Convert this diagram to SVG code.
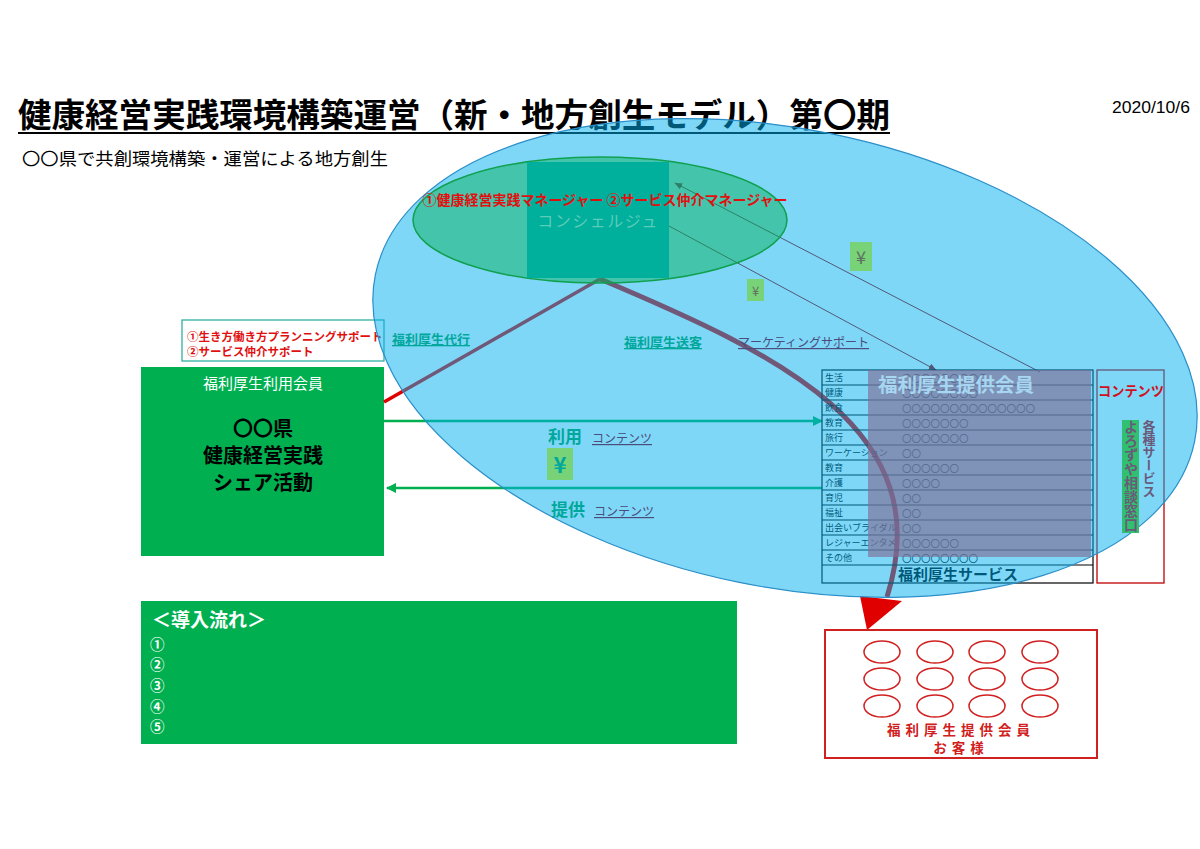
<svg xmlns="http://www.w3.org/2000/svg" width="1200" height="849" viewBox="0 0 1200 849">
<defs>
<style>
.jp{font-family:"Noto Sans CJK JP","Noto Sans CJK SC",sans-serif}
.b{font-weight:bold}
.row{fill:none;stroke:#000;stroke-width:1.2}
.lbl{font-size:9px;fill:#000}
.cir{font-size:9.5px;fill:#000}
.oval{fill:none;stroke:#d02020;stroke-width:1.5}
.teal{fill:#00a89c;font-size:13px;font-weight:bold;text-decoration:underline}
.pg{fill:#4a4c7c;font-size:12px;text-decoration:underline}
.yen{fill:#78d278}
</style>
<marker id="ag" viewBox="0 0 10 10" refX="9" refY="5" markerWidth="4" markerHeight="4" orient="auto" markerUnits="strokeWidth"><path d="M0,0 L10,5 L0,10 z" fill="#00b050"/></marker>
<marker id="ar" viewBox="0 0 10 10" refX="9" refY="5" markerWidth="8" markerHeight="8" orient="auto" markerUnits="strokeWidth"><path d="M0,1 L10,5 L0,9 z" fill="#a00000"/></marker>
</defs>
<rect width="1200" height="849" fill="#fff"/>

<g id="title">
<text x="18" y="127" class="jp b" font-size="33" textLength="872" lengthAdjust="spacingAndGlyphs" fill="#000">健康経営実践環境構築運営（新・地方創生モデル）第〇期</text>
<line x1="18" y1="133" x2="890" y2="133" stroke="#000" stroke-width="2"/>
<text x="22" y="165" class="jp" font-size="17.5" textLength="366" lengthAdjust="spacingAndGlyphs" fill="#000">〇〇県で共創環境構築・運営による地方創生</text>
<text x="1190" y="113" font-family="Liberation Sans, Arial, sans-serif" font-size="16" text-anchor="end" textLength="78" lengthAdjust="spacingAndGlyphs" fill="#000">2020/10/6</text>
</g>

<g id="support-box">
<rect x="182" y="320" width="202" height="41" fill="#fff" stroke="#30b0a0" stroke-width="1.3"/>
<text x="187" y="341" class="jp b" font-size="11.5" fill="#e01010">①生き方働き方プランニングサポート</text>
<text x="187" y="356" class="jp b" font-size="11.5" fill="#e01010">②サービス仲介サポート</text>
</g>

<g id="member-box">
<rect x="141" y="367" width="243" height="189" fill="#00b050"/>
<text x="263" y="389" class="jp" font-size="15" fill="#fff" text-anchor="middle">福利厚生利用会員</text>
<text x="263" y="436" class="jp b" font-size="20" fill="#000" text-anchor="middle">〇〇県</text>
<text x="263" y="463" class="jp b" font-size="20" fill="#000" text-anchor="middle">健康経営実践</text>
<text x="263" y="490" class="jp b" font-size="20" fill="#000" text-anchor="middle">シェア活動</text>
</g>

<g id="connectors">
<line x1="384" y1="421" x2="822" y2="421" stroke="#00b050" stroke-width="2.5" marker-end="url(#ag)"/>
<line x1="822" y1="488" x2="387" y2="488" stroke="#00b050" stroke-width="2.5" marker-end="url(#ag)"/>
<path d="M384,402 L600,279" fill="none" stroke="#e00000" stroke-width="3.5"/>
<path d="M600,279 C780,355 940,430 887,597" fill="none" stroke="#e00000" stroke-width="5"/>
<polygon points="860,596 902,601 867,630" fill="#e00000"/>
<line x1="1040" y1="372" x2="675" y2="183" stroke="#a00000" stroke-width="1" marker-end="url(#ar)"/>
<line x1="669" y1="226" x2="936" y2="370" stroke="#a00000" stroke-width="1" marker-end="url(#ar)"/>
</g>

<g id="service-table">
<rect x="822" y="370" width="271" height="213" fill="#fff" class="row"/>
<path class="row" d="M822,385H1093M822,400H1093M822,415H1093M822,430H1093M822,445H1093M822,460H1093M822,475H1093M822,490H1093M822,505H1093M822,520H1093M822,535H1093M822,550H1093M822,565H1093"/>
<g class="jp">
<text x="825" y="381" class="lbl">生活</text><text x="902" y="382" class="cir">〇〇〇〇〇〇〇〇〇</text>
<text x="825" y="396" class="lbl">健康</text><text x="902" y="397" class="cir">〇〇〇〇〇〇〇〇</text>
<text x="825" y="411" class="lbl">飲食</text><text x="902" y="412" class="cir">〇〇〇〇〇〇〇〇〇〇〇〇〇〇</text>
<text x="825" y="426" class="lbl">教育</text><text x="902" y="427" class="cir">〇〇〇〇〇〇〇</text>
<text x="825" y="441" class="lbl">旅行</text><text x="902" y="442" class="cir">〇〇〇〇〇〇〇</text>
<text x="825" y="456" class="lbl">ワーケーション</text><text x="902" y="457" class="cir">〇〇</text>
<text x="825" y="471" class="lbl">教育</text><text x="902" y="472" class="cir">〇〇〇〇〇〇</text>
<text x="825" y="486" class="lbl">介護</text><text x="902" y="487" class="cir">〇〇〇〇</text>
<text x="825" y="501" class="lbl">育児</text><text x="902" y="502" class="cir">〇〇</text>
<text x="825" y="516" class="lbl">福祉</text><text x="902" y="517" class="cir">〇〇</text>
<text x="825" y="531" class="lbl">出会いブライダル</text><text x="902" y="532" class="cir">〇〇</text>
<text x="825" y="546" class="lbl">レジャーエンタメ</text><text x="902" y="547" class="cir">〇〇〇〇〇〇</text>
<text x="825" y="561" class="lbl">その他</text><text x="902" y="562" class="cir">〇〇〇〇〇〇〇〇</text>
<text x="958" y="580" class="b" font-size="15" text-anchor="middle" fill="#000">福利厚生サービス</text>
</g>
</g>

<g id="contents-box-frame">
<rect x="1097" y="370" width="67" height="213" fill="#fff" stroke="#c00000" stroke-width="1.3"/>
</g>

<g id="region">
<ellipse cx="785" cy="358" rx="418" ry="229" transform="rotate(11.5 785 358)" fill="#00b0f0" fill-opacity="0.5" stroke="#2a8fc8" stroke-width="1.2"/>
</g>

<g id="concierge">
<ellipse cx="600" cy="220" rx="187" ry="63" fill="#00b050" fill-opacity="0.46" stroke="#10a050" stroke-width="1.5"/>
<rect x="527" y="162" width="142" height="116" fill="#00b09c"/>
<text x="598" y="227" class="jp" font-size="16" letter-spacing="1.5" fill="#5ccbb8" text-anchor="middle">コンシェルジュ</text>
<text x="605" y="205" class="jp b" font-size="14" fill="#e01010" text-anchor="middle">①健康経営実践マネージャー ②サービス仲介マネージャー</text>
</g>

<g id="provider-overlay">
<rect x="868" y="370" width="223" height="187" fill="rgb(128,110,150)" fill-opacity="0.65"/>
<text x="956" y="392" class="jp b" font-size="19.5" fill="#a6d6f0" text-anchor="middle">福利厚生提供会員</text>
</g>

<g id="labels" class="jp">
<text x="392" y="344" class="teal">福利厚生代行</text>
<text x="624" y="347" class="teal">福利厚生送客</text>
<text x="738" y="347" class="pg">マーケティングサポート</text>
<text x="548" y="443" class="b" font-size="17" fill="#00a89c">利用</text>
<text x="592" y="443" class="pg">コンテンツ</text>
<text x="551" y="516" class="b" font-size="17" fill="#00a89c">提供</text>
<text x="594" y="516" class="pg">コンテンツ</text>
<rect x="547" y="448" width="26" height="32" class="yen"/>
<text x="560" y="473" class="b" font-size="22" fill="#00a89c" text-anchor="middle">¥</text>
<rect x="747" y="279" width="17" height="22" class="yen"/>
<text x="755.5" y="296" font-size="13" fill="#607060" text-anchor="middle">¥</text>
<rect x="850" y="242" width="22" height="29" class="yen"/>
<text x="861" y="264" font-size="18" fill="#607060" text-anchor="middle">¥</text>
</g>

<g id="contents-box" class="jp">
<text x="1131" y="396" class="b" font-size="14" fill="#d01020" text-anchor="middle" textLength="66" lengthAdjust="spacingAndGlyphs">コンテンツ</text>
<rect x="1122" y="420" width="17" height="113" fill="#30c070"/>
<text x="1131" y="420" class="b" font-size="14" fill="#6a5a7a" style="writing-mode:vertical-rl" text-anchor="start">よろずや相談窓口</text>
<text x="1149" y="420" class="b" font-size="13" fill="#6a5a7a" style="writing-mode:vertical-rl" text-anchor="start">各種サービス</text>
</g>

<g id="customer-box">
<rect x="825" y="630" width="272" height="128" fill="#fff" stroke="#d02020" stroke-width="2"/>
<ellipse cx="882" cy="652" rx="18" ry="11" class="oval"/><ellipse cx="935" cy="652" rx="18" ry="11" class="oval"/><ellipse cx="987" cy="652" rx="18" ry="11" class="oval"/><ellipse cx="1040" cy="652" rx="18" ry="11" class="oval"/>
<ellipse cx="882" cy="679" rx="18" ry="11" class="oval"/><ellipse cx="935" cy="679" rx="18" ry="11" class="oval"/><ellipse cx="987" cy="679" rx="18" ry="11" class="oval"/><ellipse cx="1040" cy="679" rx="18" ry="11" class="oval"/>
<ellipse cx="882" cy="706" rx="18" ry="11" class="oval"/><ellipse cx="935" cy="706" rx="18" ry="11" class="oval"/><ellipse cx="987" cy="706" rx="18" ry="11" class="oval"/><ellipse cx="1040" cy="706" rx="18" ry="11" class="oval"/>
<text x="961" y="735" class="jp b" font-size="13.5" fill="#d02020" text-anchor="middle" letter-spacing="5">福利厚生提供会員</text>
<text x="961" y="753" class="jp b" font-size="13.5" fill="#d02020" text-anchor="middle" letter-spacing="5">お客様</text>
</g>

<g id="flow-box">
<rect x="141" y="601" width="596" height="143" fill="#00b050"/>
<text x="152" y="627" class="jp b" font-size="19" fill="#fff">＜導入流れ＞</text>
<text x="150" y="650" class="jp b" font-size="14.5" fill="#fff">①</text>
<text x="150" y="670" class="jp b" font-size="14.5" fill="#fff">②</text>
<text x="150" y="691" class="jp b" font-size="14.5" fill="#fff">③</text>
<text x="150" y="712" class="jp b" font-size="14.5" fill="#fff">④</text>
<text x="150" y="732" class="jp b" font-size="14.5" fill="#fff">⑤</text>
</g>
</svg>
